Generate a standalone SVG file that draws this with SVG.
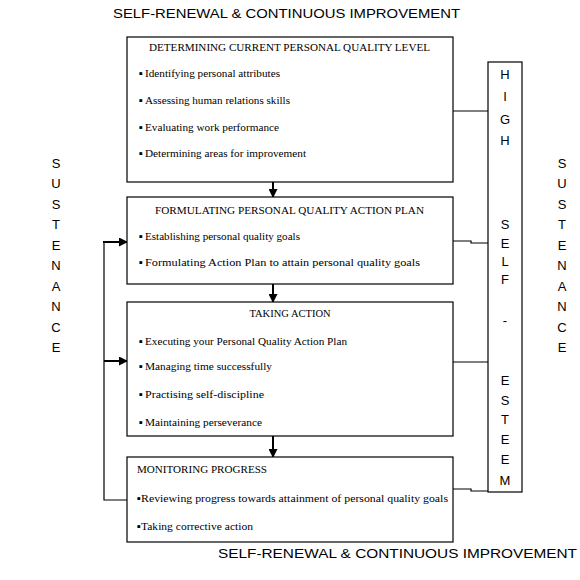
<svg xmlns="http://www.w3.org/2000/svg" width="580" height="580" viewBox="0 0 580 580">
<style>
.box{fill:#fff;stroke:#000;stroke-width:1.2}
.t{font-family:"Liberation Serif","Times New Roman",serif;font-size:11.2px;fill:#000}
.h{font-family:"Liberation Serif","Times New Roman",serif;font-size:10.5px;fill:#000}
.s{font-family:"Liberation Sans",Arial,sans-serif;font-size:13px;fill:#000}
.v{font-family:"Liberation Sans",Arial,sans-serif;font-size:13px;fill:#000;text-anchor:middle}
.ln{fill:none;stroke:#000;stroke-width:1.2}
.ar{fill:none;stroke:#000;stroke-width:2}
</style>
<defs>
<marker id="ah" markerWidth="9" markerHeight="9" refX="8" refY="4.5" orient="auto" markerUnits="userSpaceOnUse">
<path d="M0,0 L9,4.5 L0,9 Z" fill="#000"/>
</marker>
</defs>
<rect width="580" height="580" fill="#fff"/>
<text class="s" x="113" y="18" textLength="347" lengthAdjust="spacingAndGlyphs">SELF-RENEWAL &amp; CONTINUOUS IMPROVEMENT</text>
<text class="s" x="218" y="558" textLength="359" lengthAdjust="spacingAndGlyphs">SELF-RENEWAL &amp; CONTINUOUS IMPROVEMENT</text>

<g id="sustenance-left">
<text class="v" x="56" y="168">S</text><text class="v" x="56" y="188">U</text><text class="v" x="56" y="209">S</text><text class="v" x="56" y="229">T</text><text class="v" x="56" y="250">E</text><text class="v" x="56" y="270">N</text><text class="v" x="56" y="291">A</text><text class="v" x="56" y="311">N</text><text class="v" x="56" y="332">C</text><text class="v" x="56" y="352">E</text>
</g>
<g id="sustenance-right">
<text class="v" x="562" y="168">S</text><text class="v" x="562" y="188">U</text><text class="v" x="562" y="209">S</text><text class="v" x="562" y="229">T</text><text class="v" x="562" y="250">E</text><text class="v" x="562" y="270">N</text><text class="v" x="562" y="291">A</text><text class="v" x="562" y="311">N</text><text class="v" x="562" y="332">C</text><text class="v" x="562" y="352">E</text>
</g>

<g id="connectors">
<line class="ar" x1="273" y1="182" x2="273" y2="197" marker-end="url(#ah)"/>
<line class="ar" x1="273" y1="284" x2="273" y2="302" marker-end="url(#ah)"/>
<line class="ar" x1="273" y1="436" x2="273" y2="457" marker-end="url(#ah)"/>
<polyline class="ln" points="127,500 104,500 104,242"/>
<line class="ar" x1="103" y1="242" x2="127" y2="242" marker-end="url(#ah)"/>
<line class="ar" x1="104" y1="361" x2="127" y2="361" marker-end="url(#ah)"/>
<line class="ln" x1="453" y1="111" x2="488" y2="111"/>
<polyline class="ln" points="453,241 471,241 471,243 488,243"/>
<line class="ln" x1="453" y1="362" x2="488" y2="362"/>
<polyline class="ln" points="453,489 471,489 471,491 488,491"/>
</g>

<g id="esteem">
<rect class="box" x="488" y="62" width="34" height="430"/>
<text class="v" x="505" y="79">H</text><text class="v" x="505" y="101">I</text><text class="v" x="505" y="124">G</text><text class="v" x="505" y="145">H</text>
<text class="v" x="505" y="229">S</text><text class="v" x="505" y="248">E</text><text class="v" x="505" y="266">L</text><text class="v" x="505" y="284">F</text>
<text class="v" x="505" y="325">-</text>
<text class="v" x="505" y="385">E</text><text class="v" x="505" y="405">S</text><text class="v" x="505" y="424">T</text><text class="v" x="505" y="444">E</text><text class="v" x="505" y="464">E</text><text class="v" x="505" y="485">M</text>
</g>

<g id="box1">
<rect class="box" x="127" y="37" width="326" height="145"/>
<text class="h" x="149" y="51" textLength="281" lengthAdjust="spacingAndGlyphs">DETERMINING CURRENT PERSONAL QUALITY LEVEL</text>
<text class="t" x="139" y="77"><tspan>▪</tspan><tspan x="145" textLength="135" lengthAdjust="spacingAndGlyphs">Identifying personal attributes</tspan></text>
<text class="t" x="139" y="104"><tspan>▪</tspan><tspan x="145" textLength="145" lengthAdjust="spacingAndGlyphs">Assessing human relations skills</tspan></text>
<text class="t" x="139" y="131"><tspan>▪</tspan><tspan x="145" textLength="134" lengthAdjust="spacingAndGlyphs">Evaluating work performance</tspan></text>
<text class="t" x="139" y="157"><tspan>▪</tspan><tspan x="145" textLength="161" lengthAdjust="spacingAndGlyphs">Determining areas for improvement</tspan></text>
</g>

<g id="box2">
<rect class="box" x="127" y="197" width="326" height="87"/>
<text class="h" x="155" y="214" textLength="269" lengthAdjust="spacingAndGlyphs">FORMULATING PERSONAL QUALITY ACTION PLAN</text>
<text class="t" x="139" y="240"><tspan>▪</tspan><tspan x="145" textLength="155" lengthAdjust="spacingAndGlyphs">Establishing personal quality goals</tspan></text>
<text class="t" x="139" y="266"><tspan>▪</tspan><tspan x="145" textLength="275" lengthAdjust="spacingAndGlyphs">Formulating Action Plan to attain personal quality goals</tspan></text>
</g>

<g id="box3">
<rect class="box" x="127" y="302" width="326" height="134"/>
<text class="h" x="290" y="317" text-anchor="middle">TAKING ACTION</text>
<text class="t" x="139" y="345"><tspan>▪</tspan><tspan x="145" textLength="202" lengthAdjust="spacingAndGlyphs">Executing your Personal Quality Action Plan</tspan></text>
<text class="t" x="139" y="370"><tspan>▪</tspan><tspan x="145" textLength="127" lengthAdjust="spacingAndGlyphs">Managing time successfully</tspan></text>
<text class="t" x="139" y="398"><tspan>▪</tspan><tspan x="145" textLength="119" lengthAdjust="spacingAndGlyphs">Practising self-discipline</tspan></text>
<text class="t" x="139" y="426"><tspan>▪</tspan><tspan x="145" textLength="117" lengthAdjust="spacingAndGlyphs">Maintaining perseverance</tspan></text>
</g>

<g id="box4">
<rect class="box" x="127" y="457" width="326" height="85"/>
<text class="h" x="137" y="473" textLength="130" lengthAdjust="spacingAndGlyphs">MONITORING PROGRESS</text>
<text class="t" x="137" y="502"><tspan>▪</tspan><tspan x="141" textLength="307" lengthAdjust="spacingAndGlyphs">Reviewing progress towards attainment of personal quality goals</tspan></text>
<text class="t" x="137" y="530"><tspan>▪</tspan><tspan x="141" textLength="112" lengthAdjust="spacingAndGlyphs">Taking corrective action</tspan></text>
</g>
</svg>
